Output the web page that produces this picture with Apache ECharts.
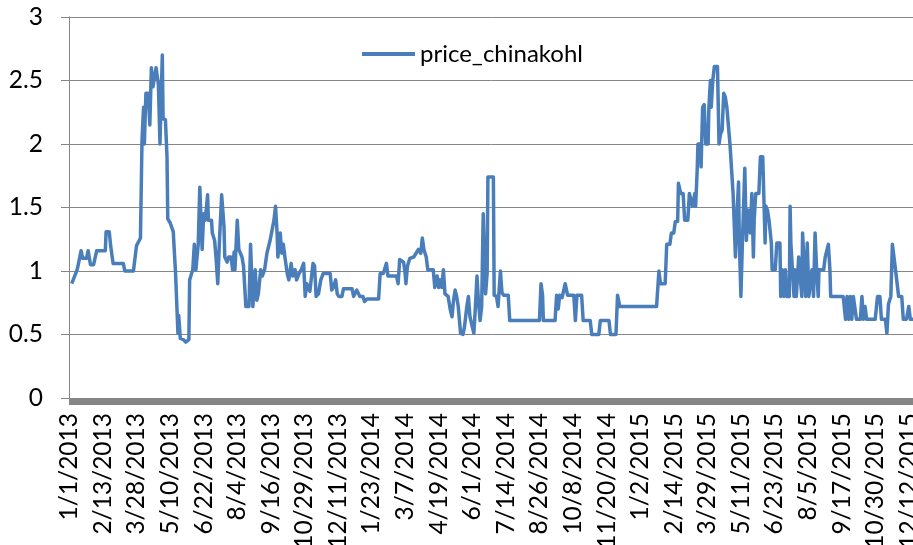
<!DOCTYPE html>
<html>
<head>
<meta charset="utf-8">
<script src="https://cdn.jsdelivr.net/npm/echarts@6/dist/echarts.min.js"></script>
<style>
  html, body { margin: 0; padding: 0; background: #fff; }
  #chart { width: 913px; height: 545px; }
</style>
</head>
<body>
<div id="chart"></div>
<script>
// Daily price of Chinese cabbage (chinakohl), 2013-2015.
// Quotes are recorded on the day the price was observed; the line joins them.
const startDate = [2013, 0, 1];
const dayCount = 1095;

// Day offset (from 1/1/2013) of each recorded quote
const quoteDay = [
  3, 10, 15, 17, 22, 24, 27, 31, 35, 46, 47, 51, 53, 56, 69, 71, 82, 86, 91, 93,
  95, 96, 98, 101, 103, 105, 107, 109, 111, 114, 116, 119, 120, 123, 125, 126, 129, 133, 136, 139,
  140, 142, 146, 149, 153,
  154, 158, 160, 162, 165, 167, 170, 172, 174, 177, 178, 182, 183, 186, 188, 190, 192, 195, 198, 199,
  202, 204, 207, 209, 211, 212, 215, 217, 221, 223, 226, 230, 232, 235, 238, 240, 242, 245, 247, 250,
  253, 257, 262, 264, 266, 267, 270, 272, 274, 276, 279, 281, 284, 286, 289, 291, 294, 297, 300, 302,
  304, 308,
  312, 314, 316, 319, 322, 325, 334, 336, 338, 341, 343, 345, 349, 351, 362, 364, 368, 372, 376, 378,
  381, 396, 398, 402, 406, 408, 419, 421, 423, 428, 430, 431, 433, 436, 441, 444, 447, 450, 452, 454,
  457, 459, 466, 468,
  471, 473, 475, 477, 479, 481, 485, 488, 490, 492,
  494, 496, 498, 501, 504, 506, 509, 511, 513, 516,
  518, 520, 522, 524, 526, 528, 530, 532, 533, 535,
  536, 543, 544, 547, 549, 552, 554, 556, 562, 564,
  602, 604, 606, 607, 622, 624, 626, 628, 631, 635,
  638, 646, 648, 650, 656, 658, 667, 669, 678, 680,
  691, 693, 700, 702, 705, 752, 755, 757, 763, 765,
  769, 771, 774, 776, 779, 780, 783, 786, 788, 792,
  794,
  798, 801, 802, 804, 805, 808, 809, 811, 813, 815, 818, 819, 821, 822, 824, 826, 830, 832, 834, 836,
  838, 840, 842, 844, 846, 848, 850, 853, 855, 857, 858, 860, 862, 865, 867, 869, 870, 872, 874, 876,
  877, 879, 883, 885, 888, 891, 892, 894, 896, 899, 900, 904, 906, 910, 911, 913, 915, 917, 919, 922,
  923, 924, 926, 928, 929, 931, 934, 936, 938, 939, 941,
  943, 945, 947, 949, 951, 953, 955, 957, 959, 960, 966, 968, 970, 972, 974, 975, 977, 983, 991, 994,
  996, 998, 1000, 1002, 1004, 1006, 1008, 1013, 1015, 1017, 1019, 1021, 1032, 1035, 1038, 1040, 1045, 1047, 1049, 1052,
  1054, 1056, 1058, 1062, 1066, 1068, 1072, 1075, 1077, 1081
];

// Quoted price on each of those days
const quotePrice = [
  0.90, 1.01, 1.16, 1.10, 1.10, 1.16, 1.05, 1.05, 1.16, 1.16, 1.31, 1.31, 1.19, 1.06, 1.06, 1.00, 1.00, 1.20, 1.26, 2.03,
  2.29, 2.00, 2.40, 2.40, 2.15, 2.60, 2.45, 2.45, 2.60, 2.47, 2.00, 2.70, 2.20, 2.19, 1.90, 1.41, 1.38, 1.31, 0.98, 0.51,
  0.65, 0.47, 0.46, 0.44, 0.46,
  0.93, 1.01, 1.21, 1.01, 1.21, 1.66, 1.17, 1.45, 1.40, 1.60, 1.40, 1.40, 1.30, 1.24, 1.09, 0.90, 1.21, 1.60, 1.35, 1.11,
  1.07, 1.11, 1.11, 1.01, 1.15, 1.01, 1.40, 1.17, 1.11, 1.04, 0.72, 0.72, 1.21, 0.72, 1.01, 0.77, 0.82, 1.01, 0.96, 1.01,
  1.14, 1.24, 1.40, 1.51, 1.30, 1.11, 1.30, 1.14, 1.21, 1.11, 0.98, 0.93, 1.06, 0.96, 1.01, 0.93, 0.98, 1.01, 1.06, 0.80,
  0.90, 0.84,
  1.06, 1.04, 0.80, 0.82, 0.93, 0.98, 0.98, 0.85, 0.87, 0.93, 0.82, 0.80, 0.80, 0.86, 0.86, 0.80, 0.85, 0.80, 0.80, 0.76,
  0.78, 0.78, 0.98, 0.98, 1.06, 0.96, 0.96, 0.90, 1.09, 1.07, 0.98, 0.90, 1.04, 1.10, 1.11, 1.14, 1.17, 1.14, 1.26, 1.17,
  1.11, 1.01, 1.01, 0.87,
  0.96, 0.87, 0.93, 0.87, 1.01, 0.82, 0.80, 0.69, 0.64, 0.77,
  0.85, 0.80, 0.72, 0.51, 0.50, 0.56, 0.72, 0.80, 0.64, 0.56,
  0.51, 0.72, 0.96, 0.75, 0.61, 0.72, 1.45, 1.45, 0.82, 0.98,
  1.74, 1.74, 0.81, 0.80, 0.72, 1.00, 0.83, 0.81, 0.81, 0.61,
  0.61, 0.90, 0.81, 0.61, 0.61, 0.81, 0.70, 0.81, 0.79, 0.90,
  0.81, 0.81, 0.61, 0.81, 0.81, 0.61, 0.61, 0.50, 0.50, 0.61,
  0.61, 0.50, 0.50, 0.81, 0.72, 0.72, 1.00, 0.90, 0.90, 1.21,
  1.21, 1.30, 1.30, 1.39, 1.39, 1.69, 1.61, 1.61, 1.40, 1.40,
  1.61,
  1.51, 1.61, 1.51, 1.79, 2.00, 2.00, 1.82, 2.29, 2.31, 2.00, 2.00, 2.29, 2.50, 2.29, 2.50, 2.61, 2.61, 2.00, 2.08, 2.11,
  2.40, 2.37, 2.29, 2.29, 2.00, 2.00, 1.61, 1.11, 1.45, 1.70, 1.24, 0.80, 1.24, 1.81, 1.24, 1.48, 1.35, 1.30, 1.61, 1.11,
  1.40, 1.61, 1.61, 1.90, 1.90, 1.22, 1.51, 1.48, 1.40, 1.22, 1.01, 1.01, 1.22, 1.22, 0.80, 1.01, 0.80, 1.01, 0.80, 0.80,
  1.51, 1.22, 1.01, 0.80, 1.01, 0.80, 1.11, 1.11, 0.80, 1.30, 1.30,
  0.80, 1.22, 0.80, 0.80, 1.01, 0.80, 1.30, 1.01, 0.80, 1.01, 1.01, 1.11, 1.11, 1.21, 1.01, 0.80, 0.80, 0.80, 0.80, 0.62,
  0.80, 0.62, 0.80, 0.62, 0.80, 0.80, 0.62, 0.62, 0.80, 0.62, 0.72, 0.62, 0.62, 0.80, 0.80, 0.62, 0.62, 0.51, 0.74, 0.80,
  1.21, 1.21, 1.01, 0.80, 0.80, 0.62, 0.62, 0.72, 0.62, 0.62
];

// Value axis ticks
const yTicks = [0, 0.5, 1, 1.5, 2, 2.5, 3];
const seriesName = 'price_chinakohl';

// One category per calendar day, labelled M/D/YYYY
const dayLabels = [];
for (let i = 0; i < dayCount; i++) {
  const d = new Date(startDate[0], startDate[1], startDate[2] + i);
  dayLabels.push((d.getMonth() + 1) + '/' + d.getDate() + '/' + d.getFullYear());
}

// Place each quote on its day; days without a quote stay empty
const lineData = new Array(dayCount).fill(null);
quoteDay.forEach((day, i) => { lineData[day] = quotePrice[i]; });

const FONT = 'Lato';
const AXIS_GRAY = '#868686';
const LINE_BLUE = '#4A7EBB';

const chart = echarts.init(document.getElementById('chart'), null, { renderer: 'canvas' });
chart.setOption({
  animation: false,
  backgroundColor: '#ffffff',
  // the plot runs a little past the right edge of the page
  grid: { left: 69, top: 17, width: 855, height: 381, containLabel: false, outerBoundsMode: 'none' },
  legend: {
    data: [{ name: seriesName, icon: 'rect' }],
    left: 362,
    top: 42,
    padding: 0,
    itemWidth: 53,
    itemHeight: 4,
    itemGap: 5,
    itemStyle: { color: LINE_BLUE },
    textStyle: { fontFamily: FONT, fontSize: 24, color: '#000' }
  },
  xAxis: {
    type: 'category',
    data: dayLabels,
    boundaryGap: true,
    axisLine: { show: true, lineStyle: { color: AXIS_GRAY, width: 1 } },
    axisTick: { show: true, interval: 0, length: 7, lineStyle: { color: AXIS_GRAY, width: 1 } },
    axisLabel: {
      interval: 42,
      rotate: 90,
      margin: 15,
      fontFamily: FONT,
      fontSize: 24.5,
      color: '#000'
    },
    splitLine: { show: false }
  },
  yAxis: {
    type: 'value',
    min: yTicks[0],
    max: yTicks[yTicks.length - 1],
    interval: 0.5,
    axisLine: { show: true, lineStyle: { color: AXIS_GRAY, width: 1 } },
    axisTick: { show: true, length: 8, lineStyle: { color: AXIS_GRAY } },
    axisLabel: { margin: 26, fontFamily: FONT, fontSize: 24.5, color: '#000' },
    splitLine: { show: true, lineStyle: { color: AXIS_GRAY, width: 1 } }
  },
  series: [{
    name: seriesName,
    type: 'line',
    data: lineData,
    connectNulls: true,
    showSymbol: false,
    symbol: 'none',
    lineStyle: { color: LINE_BLUE, width: 3.5, join: 'round' },
    itemStyle: { color: LINE_BLUE }
  }]
});
</script>
</body>
</html>
